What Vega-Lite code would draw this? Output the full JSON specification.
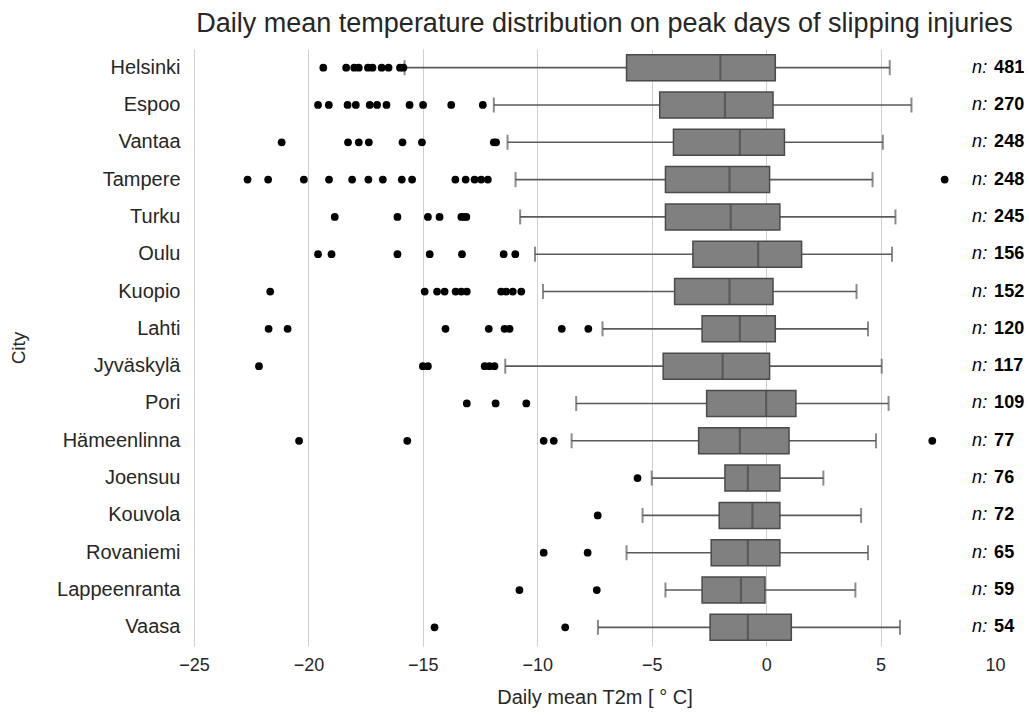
{
  "$schema": "https://vega.github.io/schema/vega-lite/v6.json",
  "autosize": {"type": "none"},
  "width": 801,
  "height": 597,
  "padding": {"left": 194, "top": 49, "right": 34, "bottom": 69},
  "background": "white",
  "config": {
    "font": "Liberation Sans",
    "view": {"stroke": null},
    "axis": {"labelColor": "#262626", "titleColor": "#262626", "titleFontWeight": "normal", "domain": false, "ticks": false}
  },
  "title": {"text": "Daily mean temperature distribution on peak days of slipping injuries", "fontSize": 27, "fontWeight": "normal", "color": "#262626", "anchor": "middle", "dx": 10, "offset": 11},
  "datasets": {
    "stats": [
      {"city": "Helsinki", "lo": -15.8, "q1": -6.1, "med": -2.0, "q3": 0.4, "hi": 5.4, "n": 481},
      {"city": "Espoo", "lo": -11.9, "q1": -4.65, "med": -1.8, "q3": 0.3, "hi": 6.35, "n": 270},
      {"city": "Vantaa", "lo": -11.3, "q1": -4.05, "med": -1.15, "q3": 0.8, "hi": 5.1, "n": 248},
      {"city": "Tampere", "lo": -10.95, "q1": -4.4, "med": -1.6, "q3": 0.15, "hi": 4.65, "n": 248},
      {"city": "Turku", "lo": -10.75, "q1": -4.4, "med": -1.55, "q3": 0.6, "hi": 5.65, "n": 245},
      {"city": "Oulu", "lo": -10.1, "q1": -3.2, "med": -0.35, "q3": 1.55, "hi": 5.5, "n": 156},
      {"city": "Kuopio", "lo": -9.75, "q1": -4.0, "med": -1.6, "q3": 0.3, "hi": 3.95, "n": 152},
      {"city": "Lahti", "lo": -7.15, "q1": -2.8, "med": -1.15, "q3": 0.4, "hi": 4.45, "n": 120},
      {"city": "Jyväskylä", "lo": -11.4, "q1": -4.5, "med": -1.9, "q3": 0.15, "hi": 5.05, "n": 117},
      {"city": "Pori", "lo": -8.3, "q1": -2.6, "med": 0.0, "q3": 1.3, "hi": 5.35, "n": 109},
      {"city": "Hämeenlinna", "lo": -8.5, "q1": -2.95, "med": -1.15, "q3": 1.0, "hi": 4.8, "n": 77},
      {"city": "Joensuu", "lo": -5.0, "q1": -1.8, "med": -0.8, "q3": 0.6, "hi": 2.5, "n": 76},
      {"city": "Kouvola", "lo": -5.4, "q1": -2.05, "med": -0.6, "q3": 0.6, "hi": 4.15, "n": 72},
      {"city": "Rovaniemi", "lo": -6.1, "q1": -2.4, "med": -0.8, "q3": 0.6, "hi": 4.45, "n": 65},
      {"city": "Lappeenranta", "lo": -4.4, "q1": -2.8, "med": -1.1, "q3": -0.05, "hi": 3.9, "n": 59},
      {"city": "Vaasa", "lo": -7.35, "q1": -2.45, "med": -0.8, "q3": 1.1, "hi": 5.85, "n": 54}
    ],
    "outliers": [
      {"city": "Helsinki", "v": -19.35}, {"city": "Helsinki", "v": -18.35}, {"city": "Helsinki", "v": -18.0}, {"city": "Helsinki", "v": -17.8}, {"city": "Helsinki", "v": -17.4}, {"city": "Helsinki", "v": -17.2}, {"city": "Helsinki", "v": -16.8}, {"city": "Helsinki", "v": -16.5}, {"city": "Helsinki", "v": -16.0}, {"city": "Helsinki", "v": -15.85},
      {"city": "Espoo", "v": -19.58}, {"city": "Espoo", "v": -19.11}, {"city": "Espoo", "v": -18.29}, {"city": "Espoo", "v": -17.93}, {"city": "Espoo", "v": -17.32}, {"city": "Espoo", "v": -17.0}, {"city": "Espoo", "v": -16.59}, {"city": "Espoo", "v": -15.58}, {"city": "Espoo", "v": -14.99}, {"city": "Espoo", "v": -13.76}, {"city": "Espoo", "v": -12.38},
      {"city": "Vantaa", "v": -21.17}, {"city": "Vantaa", "v": -18.27}, {"city": "Vantaa", "v": -17.8}, {"city": "Vantaa", "v": -17.36}, {"city": "Vantaa", "v": -15.89}, {"city": "Vantaa", "v": -15.04}, {"city": "Vantaa", "v": -11.9}, {"city": "Vantaa", "v": -11.8},
      {"city": "Tampere", "v": -22.66}, {"city": "Tampere", "v": -21.76}, {"city": "Tampere", "v": -20.2}, {"city": "Tampere", "v": -19.1}, {"city": "Tampere", "v": -18.09}, {"city": "Tampere", "v": -17.38}, {"city": "Tampere", "v": -16.75}, {"city": "Tampere", "v": -15.92}, {"city": "Tampere", "v": -15.47}, {"city": "Tampere", "v": -13.58}, {"city": "Tampere", "v": -13.13}, {"city": "Tampere", "v": -12.74}, {"city": "Tampere", "v": -12.45}, {"city": "Tampere", "v": -12.16}, {"city": "Tampere", "v": 7.8},
      {"city": "Turku", "v": -18.85}, {"city": "Turku", "v": -16.11}, {"city": "Turku", "v": -14.78}, {"city": "Turku", "v": -14.27}, {"city": "Turku", "v": -13.32}, {"city": "Turku", "v": -13.2}, {"city": "Turku", "v": -13.1},
      {"city": "Oulu", "v": -19.58}, {"city": "Oulu", "v": -18.99}, {"city": "Oulu", "v": -16.11}, {"city": "Oulu", "v": -14.7}, {"city": "Oulu", "v": -13.29}, {"city": "Oulu", "v": -11.47}, {"city": "Oulu", "v": -10.96},
      {"city": "Kuopio", "v": -21.67}, {"city": "Kuopio", "v": -14.92}, {"city": "Kuopio", "v": -14.38}, {"city": "Kuopio", "v": -14.05}, {"city": "Kuopio", "v": -13.57}, {"city": "Kuopio", "v": -13.32}, {"city": "Kuopio", "v": -13.08}, {"city": "Kuopio", "v": -11.58}, {"city": "Kuopio", "v": -11.36}, {"city": "Kuopio", "v": -11.07}, {"city": "Kuopio", "v": -10.7},
      {"city": "Lahti", "v": -21.74}, {"city": "Lahti", "v": -20.91}, {"city": "Lahti", "v": -14.01}, {"city": "Lahti", "v": -12.12}, {"city": "Lahti", "v": -11.43}, {"city": "Lahti", "v": -11.21}, {"city": "Lahti", "v": -8.93}, {"city": "Lahti", "v": -7.77},
      {"city": "Jyväskylä", "v": -22.16}, {"city": "Jyväskylä", "v": -15.0}, {"city": "Jyväskylä", "v": -14.78}, {"city": "Jyväskylä", "v": -12.3}, {"city": "Jyväskylä", "v": -12.09}, {"city": "Jyväskylä", "v": -11.87},
      {"city": "Pori", "v": -13.08}, {"city": "Pori", "v": -11.82}, {"city": "Pori", "v": -10.48},
      {"city": "Hämeenlinna", "v": -20.41}, {"city": "Hämeenlinna", "v": -15.68}, {"city": "Hämeenlinna", "v": -9.72}, {"city": "Hämeenlinna", "v": -9.28}, {"city": "Hämeenlinna", "v": 7.26},
      {"city": "Joensuu", "v": -5.62},
      {"city": "Kouvola", "v": -7.36},
      {"city": "Rovaniemi", "v": -9.72}, {"city": "Rovaniemi", "v": -7.8},
      {"city": "Lappeenranta", "v": -10.78}, {"city": "Lappeenranta", "v": -7.4},
      {"city": "Vaasa", "v": -14.49}, {"city": "Vaasa", "v": -8.78}
    ]
  },
  "encoding": {
    "y": {
      "field": "city", "type": "nominal",
      "sort": ["Helsinki", "Espoo", "Vantaa", "Tampere", "Turku", "Oulu", "Kuopio", "Lahti", "Jyväskylä", "Pori", "Hämeenlinna", "Joensuu", "Kouvola", "Rovaniemi", "Lappeenranta", "Vaasa"],
      "scale": {"paddingInner": 0, "paddingOuter": 0},
      "axis": {"title": "City", "titleFontSize": 19, "labelFontSize": 20, "labelPadding": 14, "titlePadding": 28, "grid": false}
    }
  },
  "layer": [
    {
      "data": {"name": "stats"},
      "mark": {"type": "rule", "color": "#5a5a5a", "strokeWidth": 1.6},
      "encoding": {
        "x": {"field": "lo", "type": "quantitative", "scale": {"domain": [-25, 10], "nice": false, "zero": false},
          "axis": {"title": "Daily mean T2m [ ° C]", "titleFontSize": 20, "labelFontSize": 18, "labelPadding": 10, "titlePadding": 13,
            "values": [-25, -20, -15, -10, -5, 0, 5, 10], "labelFlush": false,
            "grid": true, "gridWidth": 1, "gridColor": {"condition": {"test": "datum.value === 10", "value": "transparent"}, "value": "#cfcfcf"}}},
        "x2": {"field": "hi"}
      }
    },
    {
      "data": {"name": "stats"},
      "mark": {"type": "tick", "color": "#5a5a5a", "thickness": 2, "size": 15},
      "encoding": {"x": {"field": "lo", "type": "quantitative"}}
    },
    {
      "data": {"name": "stats"},
      "mark": {"type": "tick", "color": "#5a5a5a", "thickness": 2, "size": 15},
      "encoding": {"x": {"field": "hi", "type": "quantitative"}}
    },
    {
      "data": {"name": "stats"},
      "mark": {"type": "bar", "size": 26, "fill": "#808080", "stroke": "#4a4a4a", "strokeWidth": 1.5},
      "encoding": {"x": {"field": "q1", "type": "quantitative"}, "x2": {"field": "q3"}}
    },
    {
      "data": {"name": "stats"},
      "mark": {"type": "tick", "color": "#4a4a4a", "thickness": 2.2, "size": 26},
      "encoding": {"x": {"field": "med", "type": "quantitative"}}
    },
    {
      "data": {"name": "outliers"},
      "mark": {"type": "point", "filled": true, "color": "black", "opacity": 1, "size": 60, "strokeWidth": 0},
      "encoding": {"x": {"field": "v", "type": "quantitative"}}
    },
    {
      "data": {"name": "stats"},
      "mark": {"type": "text", "align": "left", "baseline": "middle", "fontSize": 18, "fontStyle": "italic", "color": "black"},
      "encoding": {"x": {"datum": 9, "type": "quantitative"}, "text": {"value": "n:"}}
    },
    {
      "data": {"name": "stats"},
      "mark": {"type": "text", "align": "left", "baseline": "middle", "fontSize": 18, "fontWeight": "bold", "color": "black", "dx": 22},
      "encoding": {"x": {"datum": 9, "type": "quantitative"}, "text": {"field": "n", "type": "quantitative"}}
    }
  ]
}
